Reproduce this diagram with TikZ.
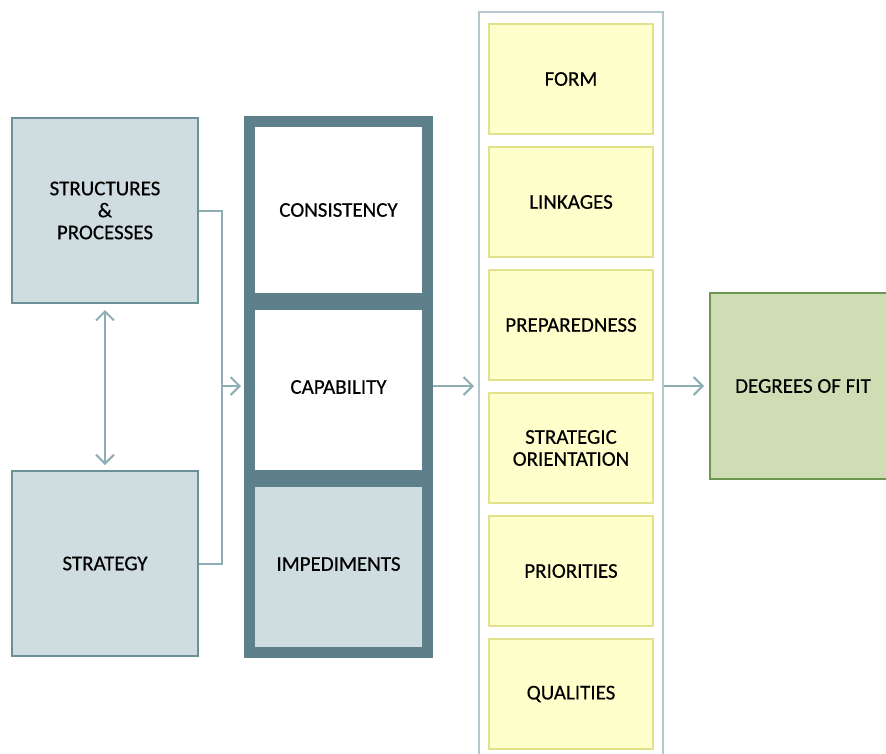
\documentclass[tikz,border=0pt]{standalone}
\usepackage{fontspec}
\setmainfont{Carlito}[FakeBold=0.35]
\usetikzlibrary{arrows.meta,positioning}
\definecolor{boxfill}{HTML}{CFDDE0}
\definecolor{boxline}{HTML}{6B9098}
\definecolor{frame}{HTML}{5E808A}
\definecolor{link}{HTML}{8EADB4}
\definecolor{colline}{HTML}{B4C7CC}
\definecolor{yelfill}{HTML}{FFFFCC}
\definecolor{yelline}{HTML}{E2E28C}
\definecolor{grnfill}{HTML}{CFDDB4}
\definecolor{grnline}{HTML}{6C9650}
\begin{document}
\begin{tikzpicture}[x=1pt, y=-1pt,
    every node/.style={font=\fontsize{21}{22}\selectfont, text=black, align=center, inner sep=0pt},
    leftbox/.style={draw=boxline, fill=boxfill, line width=2pt, minimum width=186pt, minimum height=185pt},
    cell/.style={draw=frame, line width=11pt, minimum width=178pt, minimum height=177pt},
    yelbox/.style={draw=yelline, fill=yelfill, line width=2pt, minimum width=164pt, minimum height=110pt},
    fitbox/.style={draw=grnline, fill=grnfill, line width=2pt, minimum width=186pt, minimum height=186pt},
    link/.style={draw=link, line width=2pt},
    arr/.style={link, -{Straight Barb[length=9pt,width=18pt]}}]
    \useasboundingbox (0,0) rectangle (886,753);

    % left pair
    \node[leftbox] (struct) at (105,210.5) {STRUCTURES\\\&\\PROCESSES};
    \node[leftbox] (strat) at (105,563.5) {STRATEGY};
    \draw[link, {Straight Barb[length=9pt,width=18pt]}-{Straight Barb[length=9pt,width=18pt]}, shorten <=6pt, shorten >=5pt] (struct.south) -- (strat.north);
    \coordinate (jn) at (222,386);
    \draw[link] (struct.east) -| (jn) |- (strat.east);

    % framed column
    \node[cell] (cons) at (338.5,210) {CONSISTENCY};
    \node[cell] (cap) at (338.5,387) {CAPABILITY};
    \node[cell, fill=boxfill] (imp) at (338.5,564) {IMPEDIMENTS};
    \draw[frame, line width=11pt] (cons.south west) -- (cons.south east);
    \draw[frame, line width=11pt] (cap.south west) -- (cap.south east);
    \draw[arr, shorten >=3pt] (jn) -- (jn -| cap.west);

    % dimensions column
    \node[draw=colline, line width=2pt, minimum width=184pt, minimum height=760pt] (col) at (571,392) {};
    \foreach \name/\txt [count=\i from 0] in {form/FORM, link/LINKAGES, prep/PREPAREDNESS,
        orient/{STRATEGIC\\ORIENTATION}, prio/PRIORITIES, qual/QUALITIES}
        \node[yelbox] (\name) at (571,79+123*\i) {\txt};
    \draw[arr, shorten >=4pt] (cap.east |- jn) -- (jn -| col.west);

    % result
    \node[fitbox] (fit) at (803,386) {DEGREES OF FIT};
    \draw[arr, shorten >=5pt] (jn -| col.east) -- (jn -| fit.west);
\end{tikzpicture}
\end{document}
